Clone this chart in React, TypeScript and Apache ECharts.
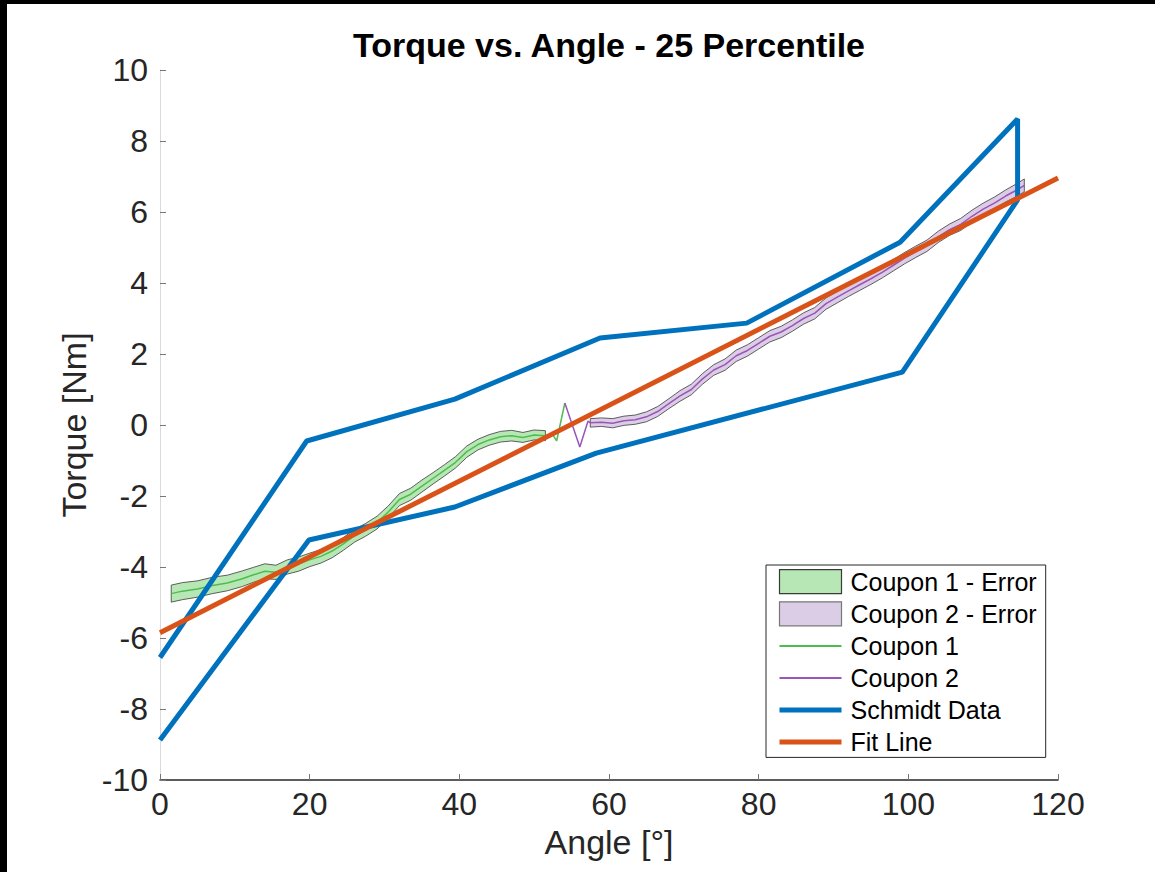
import React, { useEffect, useRef } from "react";
import * as echarts from "echarts";

const FONT = "'Liberation Sans', Arial, Helvetica, sans-serif";

const xTicks = [0, 20, 40, 60, 80, 100, 120];
const yTicks = [-10, -8, -6, -4, -2, 0, 2, 4, 6, 8, 10];

const schmidtX = [0, 19.9, 39.4, 58.3, 99.2, 114.6, 114.6, 98.9, 78.4, 58.8, 39.4, 19.6, 0];
const schmidtY = [-8.87, -3.24, -2.31, -0.79, 1.49, 6.34, 8.62, 5.15, 2.87, 2.45, 0.73, -0.45, -6.55];

const fitX = [0, 120];
const fitY = [-5.85, 6.96];

const coupon1X = [1.5, 3, 5, 7, 9, 11, 12.5, 14, 15.5, 17, 18.5, 20, 21.5, 23, 24.5, 26, 27.5, 29, 30.5, 32, 33.5, 35, 36.5, 38, 39.5, 41, 42.5, 44, 45.5, 47, 48.5, 50, 51.5];
const coupon1Y = [-4.75, -4.68, -4.62, -4.52, -4.45, -4.33, -4.22, -4.12, -4.15, -4.0, -3.92, -3.8, -3.7, -3.55, -3.35, -3.12, -2.95, -2.75, -2.45, -2.1, -1.95, -1.72, -1.5, -1.28, -1.05, -0.75, -0.55, -0.42, -0.33, -0.3, -0.35, -0.28, -0.3];
const coupon1Err = [0.24, 0.24, 0.23, 0.23, 0.22, 0.22, 0.21, 0.21, 0.2, 0.2, 0.2, 0.19, 0.19, 0.19, 0.18, 0.18, 0.18, 0.18, 0.17, 0.17, 0.17, 0.17, 0.16, 0.16, 0.16, 0.16, 0.15, 0.15, 0.15, 0.15, 0.14, 0.14, 0.14];
const coupon1TailX = [52.5, 53, 54.1];
const coupon1TailY = [-0.28, -0.45, 0.62];

const coupon2HeadX = [54.1, 56.1, 57.2];
const coupon2HeadY = [0.62, -0.62, 0.11];
const coupon2X = [57.5, 59, 60.5, 62, 63.5, 65, 66.5, 68, 69.5, 71, 72.5, 74, 75.5, 77, 78.5, 80, 81.5, 83, 84.5, 86, 87.5, 89, 90.5, 92, 93.5, 95, 96.5, 98, 99.5, 101, 102.5, 104, 105.5, 107, 108.5, 110, 111.5, 113, 114.5, 115.5];
const coupon2Y = [0.06, 0.08, 0.05, 0.12, 0.15, 0.23, 0.38, 0.6, 0.82, 1.0, 1.3, 1.55, 1.7, 1.95, 2.1, 2.3, 2.5, 2.62, 2.8, 3.0, 3.15, 3.42, 3.6, 3.78, 3.95, 4.12, 4.3, 4.5, 4.7, 4.88, 5.05, 5.3, 5.5, 5.65, 5.88, 6.08, 6.25, 6.45, 6.62, 6.75];
const coupon2Err = [0.12, 0.12, 0.13, 0.13, 0.13, 0.14, 0.14, 0.14, 0.15, 0.15, 0.15, 0.15, 0.16, 0.16, 0.16, 0.16, 0.16, 0.16, 0.16, 0.16, 0.16, 0.16, 0.16, 0.16, 0.16, 0.16, 0.16, 0.16, 0.16, 0.16, 0.16, 0.16, 0.16, 0.17, 0.17, 0.17, 0.17, 0.17, 0.18, 0.18];

const C_BLUE = "#0072BD";
const C_ORANGE = "#D95319";
const C_GREEN = "#4DBE4D";
const C_GREEN_FILL = "#B7E7B5";
const C_PURPLE = "#9A55B8";
const C_PURPLE_FILL = "#DCCDE6";
const C_EDGE = "#3a3a3a";

const zip = (xs: number[], ys: number[]) => xs.map((x, i) => [x, ys[i]]);

function bandSeries(name: string, xs: number[], ys: number[], errs: number[], fill: string) {
  return {
    type: "custom",
    name,
    coordinateSystem: "cartesian2d",
    data: [[xs[0], ys[0]]],
    encode: { x: 0, y: 1 },
    silent: true,
    z: 1,
    itemStyle: { color: fill, borderColor: C_EDGE, borderWidth: 1 },
    renderItem: (_params: any, api: any) => {
      const pts: number[][] = [];
      for (let i = 0; i < xs.length; i++) pts.push(api.coord([xs[i], ys[i] + errs[i]]));
      for (let i = xs.length - 1; i >= 0; i--) pts.push(api.coord([xs[i], ys[i] - errs[i]]));
      return {
        type: "polygon",
        shape: { points: pts },
        style: { fill, stroke: C_EDGE, lineWidth: 0.8 },
      };
    },
  };
}

const hiddenSymbol = { color: "rgba(0,0,0,0)", borderColor: "rgba(0,0,0,0)", borderWidth: 0, opacity: 0 };

export default function App() {
  const ref = useRef<HTMLDivElement>(null);
  useEffect(() => {
    if (!ref.current) return;
    const chart = echarts.init(ref.current, null, { renderer: "svg" });
    const option: any = {
      animation: false,
      backgroundColor: "#ffffff",
      grid: { left: 160, right: 97, top: 70, bottom: 92, containLabel: false },
      graphic: [
        { type: "rect", shape: { x: 0, y: 0, width: 1155, height: 4 }, style: { fill: "#000" }, z: 100 },
        { type: "rect", shape: { x: 0, y: 0, width: 7, height: 872 }, style: { fill: "#000" }, z: 100 },
        {
          type: "text",
          x: 609,
          y: 45,
          style: {
            text: "Torque vs. Angle - 25 Percentile",
            font: `bold 34px ${FONT}`,
            fill: "#000",
            align: "center",
            verticalAlign: "middle",
          },
        },
      ],
      xAxis: {
        type: "value",
        min: xTicks[0],
        max: xTicks[xTicks.length - 1],
        interval: 20,
        name: "Angle [°]",
        nameLocation: "middle",
        nameGap: 35,
        nameTextStyle: { fontSize: 34, color: "#262626", fontFamily: FONT },
        axisLine: { show: true, onZero: false, lineStyle: { color: "#262626", width: 1.5 } },
        axisTick: { show: true, inside: true, length: 6, lineStyle: { color: "#777" } },
        axisLabel: { fontSize: 32, color: "#262626", fontFamily: FONT, margin: 8 },
        splitLine: { show: false },
      },
      yAxis: {
        type: "value",
        min: yTicks[0],
        max: yTicks[yTicks.length - 1],
        interval: 2,
        name: "Torque [Nm]",
        nameLocation: "middle",
        nameGap: 68,
        nameRotate: 90,
        nameTextStyle: { fontSize: 34, color: "#262626", fontFamily: FONT },
        axisLine: { show: true, onZero: false, lineStyle: { color: "#dadada", width: 1 } },
        axisTick: { show: true, inside: true, length: 6, lineStyle: { color: "#777" } },
        axisLabel: { fontSize: 32, color: "#262626", fontFamily: FONT, margin: 12 },
        splitLine: { show: false },
      },
      legend: {
        orient: "vertical",
        left: 766,
        top: 565,
        padding: [4, 9, 3, 11],
        itemWidth: 62,
        itemHeight: 24,
        itemGap: 7,
        borderColor: "#262626",
        borderWidth: 1,
        backgroundColor: "#ffffff",
        z: 10,
        textStyle: { fontSize: 25, color: "#000", fontFamily: FONT, padding: [0, 0, 0, 4] },
        data: [
          { name: "Coupon 1 - Error", icon: "rect", itemStyle: { color: C_GREEN_FILL, borderColor: C_EDGE, borderWidth: 1.2 } },
          { name: "Coupon 2 - Error", icon: "rect", itemStyle: { color: C_PURPLE_FILL, borderColor: "#777", borderWidth: 1.2 } },
          { name: "Coupon 1", itemStyle: hiddenSymbol, lineStyle: { color: C_GREEN, width: 2 } },
          { name: "Coupon 2", itemStyle: hiddenSymbol, lineStyle: { color: C_PURPLE, width: 2 } },
          { name: "Schmidt Data", itemStyle: hiddenSymbol, lineStyle: { color: C_BLUE, width: 5 } },
          { name: "Fit Line", itemStyle: hiddenSymbol, lineStyle: { color: C_ORANGE, width: 5 } },
        ],
      },
      series: [
        bandSeries("Coupon 1 - Error", coupon1X, coupon1Y, coupon1Err, C_GREEN_FILL),
        bandSeries("Coupon 2 - Error", coupon2X, coupon2Y, coupon2Err, C_PURPLE_FILL),
        {
          type: "line",
          name: "Coupon 1",
          data: zip(coupon1X.concat(coupon1TailX), coupon1Y.concat(coupon1TailY)),
          symbol: "none",
          z: 2,
          lineStyle: { color: C_GREEN, width: 1.5 },
          itemStyle: { color: C_GREEN },
        },
        {
          type: "line",
          name: "Coupon 2",
          data: zip(coupon2HeadX.concat(coupon2X), coupon2HeadY.concat(coupon2Y)),
          symbol: "none",
          z: 2,
          lineStyle: { color: C_PURPLE, width: 1.5 },
          itemStyle: { color: C_PURPLE },
        },
        {
          type: "line",
          name: "Schmidt Data",
          data: zip(schmidtX, schmidtY),
          symbol: "none",
          z: 3,
          lineStyle: { color: C_BLUE, width: 5 },
          itemStyle: { color: C_BLUE },
        },
        {
          type: "line",
          name: "Fit Line",
          data: zip(fitX, fitY),
          symbol: "none",
          z: 4,
          lineStyle: { color: C_ORANGE, width: 5 },
          itemStyle: { color: C_ORANGE },
        },
      ],
    };
    chart.setOption(option);
    return () => chart.dispose();
  }, []);
  return (
    <div
      ref={ref}
      style={{ position: "absolute", left: 0, top: 0, width: 1155, height: 872, background: "#fff" }}
    />
  );
}
